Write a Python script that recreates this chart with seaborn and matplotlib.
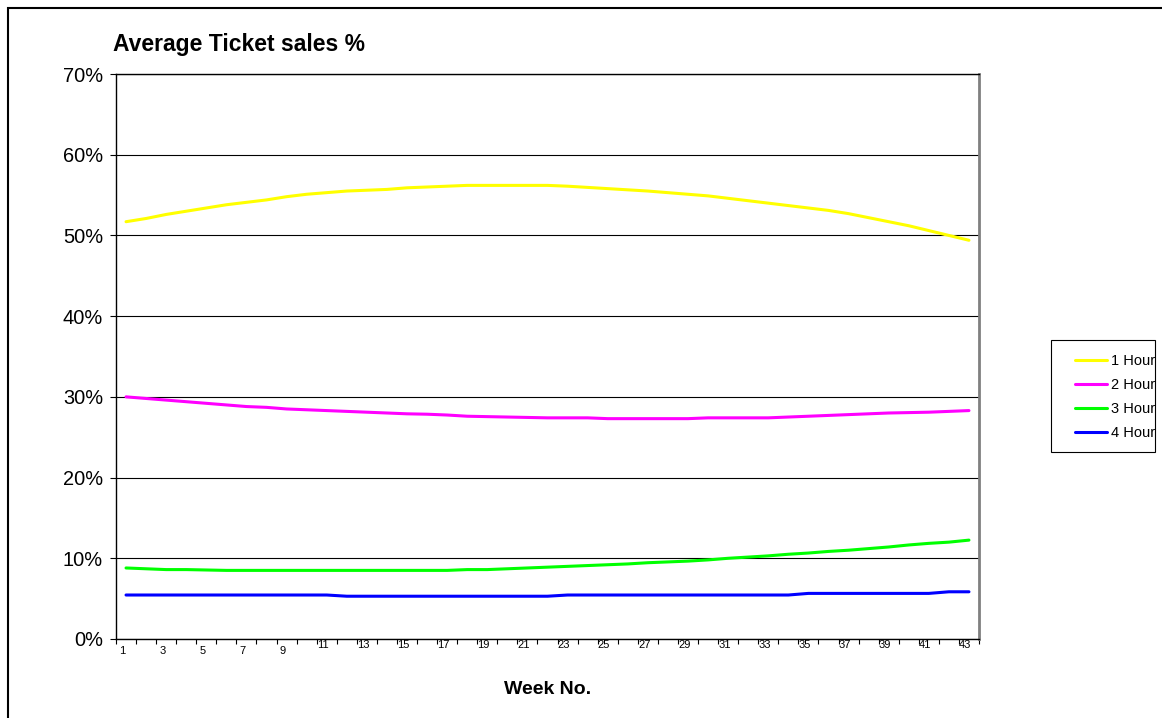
import matplotlib
matplotlib.use("Agg")
import matplotlib.pyplot as plt
import seaborn as sns
import pandas as pd
import numpy as np
from matplotlib.patches import Rectangle
from matplotlib.ticker import FuncFormatter

# Data (percent of ticket sales per week)
weeks = list(range(1, 44))
hour_1 = [51.7, 52.1, 52.6, 53.0, 53.4, 53.8, 54.1, 54.4, 54.8, 55.1,
          55.3, 55.5, 55.6, 55.7, 55.9, 56.0, 56.1, 56.2, 56.2, 56.2,
          56.2, 56.2, 56.1, 55.95, 55.8, 55.65, 55.5, 55.3, 55.1, 54.9,
          54.6, 54.3, 54.0, 53.7, 53.4, 53.1, 52.7, 52.2, 51.7, 51.2,
          50.6, 50.0, 49.4]
hour_2 = [30.0, 29.8, 29.6, 29.4, 29.2, 29.0, 28.8, 28.7, 28.5, 28.4,
          28.3, 28.2, 28.1, 28.0, 27.9, 27.85, 27.75, 27.6, 27.55, 27.5,
          27.45, 27.4, 27.4, 27.4, 27.3, 27.3, 27.3, 27.3, 27.3, 27.4,
          27.4, 27.4, 27.4, 27.5, 27.6, 27.7, 27.8, 27.9, 28.0, 28.05,
          28.1, 28.2, 28.3]
hour_3 = [8.8, 8.7, 8.6, 8.6, 8.55, 8.5, 8.5, 8.5, 8.5, 8.5,
          8.5, 8.5, 8.5, 8.5, 8.5, 8.5, 8.5, 8.6, 8.6, 8.7,
          8.8, 8.9, 9.0, 9.1, 9.2, 9.3, 9.45, 9.55, 9.65, 9.8,
          10.0, 10.15, 10.3, 10.5, 10.65, 10.85, 11.0, 11.2, 11.4, 11.65,
          11.85, 12.0, 12.25]
hour_4 = [5.45] * 11 + [5.3] * 11 + [5.45] * 12 + [5.65] * 7 + [5.85] * 2
series_names = ["1 Hour", "2 Hour", "3 Hour", "4 Hour"]
colors = ["#FFFF00", "#FF00FF", "#00FF00", "#0000FF"]

df = pd.DataFrame({
    "Week": weeks * 4,
    "Share": hour_1 + hour_2 + hour_3 + hour_4,
    "Series": sum([[n] * len(weeks) for n in series_names], []),
})

sns.set_style("white")
plt.rcParams["font.family"] = ["Liberation Sans", "DejaVu Sans"]
plt.rcParams["text.color"] = "black"
plt.rcParams["xtick.color"] = "black"
plt.rcParams["ytick.color"] = "black"

W, H = 1162, 718
fig = plt.figure(figsize=(W / 100, H / 100), dpi=100)
ax = fig.add_axes([116 / W, 1 - 639 / H, (979 - 116) / W, (639 - 74) / H])

sns.lineplot(data=df, x="Week", y="Share", hue="Series",
             palette=dict(zip(series_names, colors)), linewidth=2.2,
             errorbar=None, ax=ax)

ax.set_xlim(0.5, 43.5)
ax.set_ylim(0, 70)

# y axis
ax.set_yticks(range(0, 71, 10))
ax.yaxis.set_major_formatter(FuncFormatter(lambda v, p: f"{v:.0f}%"))
ax.tick_params(axis="y", direction="out", length=4.3, width=0.8,
               color="black", pad=5, labelsize=14.4, left=True)
ax.yaxis.grid(True, color="black", linewidth=0.8)
ax.xaxis.grid(False)

# x axis: tick marks between categories, labels on odd weeks
ax.set_xticks(np.arange(0.5, 44, 1))
ax.set_xticklabels([])
ax.tick_params(axis="x", which="major", direction="out", length=3.6,
               width=0.8, color="black", bottom=True)
label_shift = -0.18  # Excel draws these labels slightly left of centre
upper = [w for w in weeks if w % 2 == 1 and w >= 11]
ax.set_xticks([w + label_shift for w in upper], minor=True)
ax.set_xticklabels([str(w) for w in upper], minor=True)
ax.tick_params(axis="x", which="minor", length=0, pad=0.8, labelsize=8)

lower = [w for w in weeks if w % 2 == 1 and w < 11]
sec = ax.secondary_xaxis("bottom")
sec.set_xticks([w + label_shift for w in lower])
sec.set_xticklabels([str(w) for w in lower])
sec.tick_params(axis="x", length=0, pad=5, labelsize=8)
sec.spines["bottom"].set_visible(False)

ax.set_xlabel("")
ax.set_ylabel("")

for side in ["left", "bottom", "top"]:
    ax.spines[side].set_color("black")
    ax.spines[side].set_linewidth(1)
ax.spines["right"].set_color("#808080")
ax.spines["right"].set_linewidth(2)

# legend (frame drawn separately so the padding matches Excel)
sns.move_legend(ax, loc="upper left", bbox_to_anchor=(1075 / W, 1 - 354 / H),
                bbox_transform=fig.transFigure, title=None, frameon=False,
                fontsize=10.5, handlelength=2.2, handletextpad=0.27,
                labelspacing=0.68, borderpad=0, borderaxespad=0)
leg = ax.get_legend()
for line in leg.get_lines():
    line.set_linewidth(2.2)
fig.patches.append(Rectangle((1051 / W, 1 - 452 / H), 104 / W, 112 / H,
                             transform=fig.transFigure, fill=False,
                             edgecolor="black", linewidth=0.8))

fig.text(113 / W, 1 - 45 / H, "Average Ticket sales %", ha="left",
         va="center", fontsize=16.5, fontweight="bold")
fig.text(547.5 / W, 1 - 690 / H, "Week No.", ha="center", va="center",
         fontsize=14, fontweight="bold")

# outer chart border
fig.patches.append(Rectangle((8 / W, -0.05), 1.1, 1.05 - 8 / H,
                             transform=fig.transFigure, fill=False,
                             edgecolor="black", linewidth=1.5))

fig.savefig("out.png", dpi=100)
